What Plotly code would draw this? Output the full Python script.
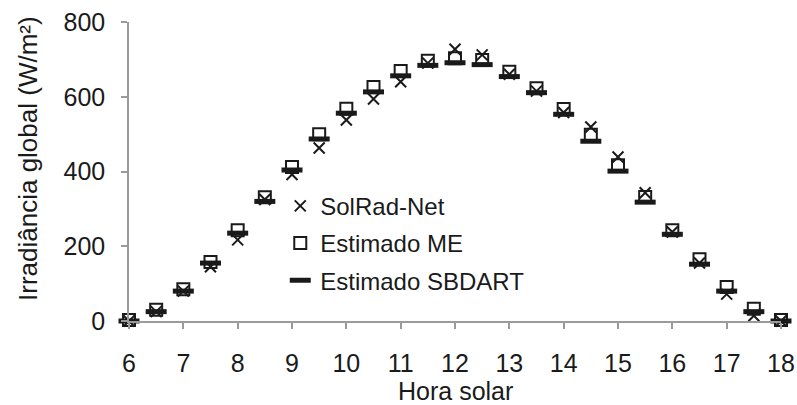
import plotly.graph_objects as go

hours = [6, 6.5, 7, 7.5, 8, 8.5, 9, 9.5, 10, 10.5, 11, 11.5, 12, 12.5, 13, 13.5, 14, 14.5, 15, 15.5, 16, 16.5, 17, 17.5, 18]
solradnet = [0, 25, 80, 145, 217, 325, 392, 463, 538, 594, 640, 690, 727, 712, 660, 615, 558, 519, 439, 343, 238, 155, 72, 14, 0]
estimado_me = [3, 30, 85, 158, 243, 331, 412, 500, 568, 626, 669, 696, 703, 698, 667, 623, 567, 498, 417, 332, 243, 165, 91, 33, 3]
estimado_sbdart = [0, 25, 80, 155, 235, 320, 404, 487, 556, 613, 656, 684, 691, 686, 654, 611, 553, 481, 401, 318, 232, 152, 80, 25, 0]

x_ticks = list(range(6, 19))
y_ticks = [0, 200, 400, 600, 800]
x_title = "Hora solar"
y_title = "Irradiância global (W/m²)"

font = "Liberation Sans, Arial, sans-serif"
ink = "#1a1a1a"
axis_gray = "#9a9a9a"

fig = go.Figure()
fig.add_trace(go.Scatter(
    x=hours, y=estimado_sbdart, mode="markers", name="Estimado SBDART", legendgroup="c", legendrank=3,
    marker=dict(symbol="line-ew", size=15, line=dict(width=5, color=ink), color=ink),
    cliponaxis=False))
fig.add_trace(go.Scatter(
    x=hours, y=estimado_me, mode="markers", name="Estimado ME", legendgroup="b", legendrank=2,
    marker=dict(symbol="square-open", size=12, line=dict(width=2, color=ink), color=ink),
    cliponaxis=False))
fig.add_trace(go.Scatter(
    x=hours, y=solradnet, mode="markers", name="SolRad-Net", legendgroup="a", legendrank=1,
    marker=dict(symbol="x-thin", size=11, line=dict(width=2, color=ink), color=ink),
    cliponaxis=False))

fig.update_layout(
    width=797, height=405,
    margin=dict(l=129, r=16, t=22, b=84),
    paper_bgcolor="white", plot_bgcolor="white",
    font=dict(family=font, size=24, color=ink),
    showlegend=True,
    legend=dict(x=0.232, y=0.26, xanchor="left", yanchor="middle",
                traceorder="grouped", bgcolor="rgba(0,0,0,0)",
                font=dict(size=24, family=font, color=ink),
                itemsizing="trace", tracegroupgap=3),
    xaxis=dict(range=[6, 18], tickvals=x_ticks, ticktext=[str(t) for t in x_ticks],
               showgrid=False, zeroline=False, showline=True, linecolor=axis_gray, linewidth=1.5,
               ticks="outside", ticklen=6, tickcolor=axis_gray, tickwidth=1.5,
               ticklabelstandoff=13, automargin=False,
               tickfont=dict(size=25, family=font, color=ink)),
    yaxis=dict(range=[0, 800], tickvals=y_ticks, showgrid=False, zeroline=False,
               showline=True, linecolor=axis_gray, linewidth=1.5,
               ticks="outside", ticklen=6, tickcolor=axis_gray, tickwidth=1.5,
               ticklabelstandoff=11, automargin=False,
               tickfont=dict(size=25, family=font, color=ink)),
    annotations=[
        dict(text=x_title, xref="paper", yref="paper", x=0.5, y=-0.233,
             xanchor="center", yanchor="middle", showarrow=False, borderpad=0,
             font=dict(size=25, family=font, color=ink)),
        dict(text=y_title, xref="paper", yref="paper", x=-0.155, y=0.545,
             xanchor="center", yanchor="middle", textangle=-90, showarrow=False,
             font=dict(size=26, family=font, color=ink)),
    ],
)

fig.write_html("out.html")
